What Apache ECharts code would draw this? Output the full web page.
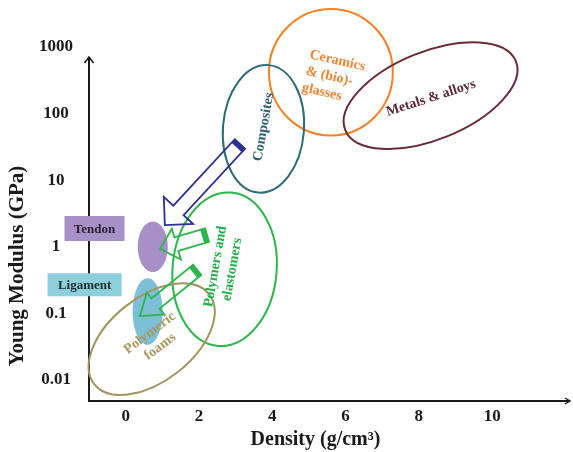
<!DOCTYPE html>
<html>
<head>
<meta charset="utf-8">
<script src="https://cdn.jsdelivr.net/npm/echarts@6/dist/echarts.min.js"></script>
<style>
  html, body { margin: 0; padding: 0; background: #fff; }
  #chart { width: 573px; height: 452px; }
</style>
</head>
<body>
<div id="chart"></div>
<script>
// Density axis tick values (g/cm³)
const densityTicks = [0, 2, 4, 6, 8, 10];
// Young's modulus tick labels (GPa), one per decade from 10^-2 to 10^3
const modulusTickLabels = ['0.01', '0.1', '1', '10', '100', '1000'];

// Material family envelopes
const familyNames = ['Ceramics\n& (bio)-\nglasses', 'Metals & alloys', 'Composites', 'Polymers and\nelastomers', 'Polymeric\nfoams'];
const familyDensity = [5.6, 8.32, 3.76, 2.70, 0.71];            // centre, g/cm³
const familyModulus = [417, 186, 59, 0.46, 0.041];               // centre, GPa
const familyDensityHalfSpan = [1.69, 2.51, 1.105, 1.42, 1.99];   // g/cm³
const familyModulusHalfSpan = [0.95, 0.66, 0.96, 1.156, 0.63];   // decades
const familyTilt = [0, 22, -4.5, -5, 38];                        // degrees
const familyLabelDensity = [4.92, 8.33, 3.77, 2.68, 0.80];
const familyLabelModulus = [436, 171, 63, 0.48, 0.040];

// Soft tissues
const tissueNames = ['Tendon', 'Ligament'];
const tissueDensity = [0.74, 0.60];
const tissueModulus = [1.0, 0.107];
const tissueDensityHalfSpan = [0.41, 0.41];
const tissueModulusHalfSpan = [0.38, 0.50];
const tissueTagDensity = [-0.85, -1.12];
const tissueTagModulus = [1.88, 0.27];

// Replacement arrows: from a material family towards a tissue
const arrowFromDensity = [3.12, 2.22, 1.95];
const arrowFromModulus = [35, 1.50, 0.45];
const arrowToDensity = [1.07, 0.94, 0.39];
const arrowToModulus = [2.12, 0.93, 0.091];

// Axis ranges
const densityMin = -1, densityMax = 12.07;
const modulusMin = 0.00484, modulusMax = 1000, spineTop = 708;

// ---- styling ----
const FONT = '"Liberation Serif", "Times New Roman", serif';
const INK = '#1a1a1a';
const familyColors = ['#F58025', '#6B2B35', '#2F6B78', '#2CB64C', '#A39460'];
const familyTextColors = ['#F08430', '#5A2838', '#2E5F6E', '#22B04C', '#A8965C'];
const familyLabelRotate = [-13, 18, 80, 80, 37];
const familyLabelAlign = ['left', 'center', 'center', 'center', 'center'];
const tissueFill = ['#A690C6', '#7DBFD6'];
const tagFill = ['#A891C7', '#8DCFDB'];
const tagTextColor = ['#2B2236', '#1E2C33'];
const tagSize = [[60, 25], [74, 23]];
const arrowColors = ['#2E3192', '#2CB64C', '#2CB64C'];
const arrowShape = [{ w: 7, H: 20, h: 20 }, { w: 7, H: 16, h: 17 }, { w: 6.5, H: 14, h: 20 }];
const chevron = 'path://M0,9 L5,0 L10,9 L8.4,10 L5,3.6 L1.6,10 Z';

const rad = deg => deg * Math.PI / 180;

function ellipseEl(api, d, E, hx, hy, tilt, style) {
  const c = api.coord([d, E]);
  const rx = api.coord([d + hx, E])[0] - c[0];
  const ry = c[1] - api.coord([d, E * Math.pow(10, hy)])[1];
  return { type: 'ellipse', x: c[0], y: c[1], rotation: rad(tilt), shape: { cx: 0, cy: 0, rx: rx, ry: ry }, style: style };
}

const chart = echarts.init(document.getElementById('chart'), null, { renderer: 'canvas' });

chart.setOption({
  animation: false,
  backgroundColor: '#fff',
  grid: { left: 89, right: 5, top: 47, bottom: 51, containLabel: false, outerBoundsMode: 'none' },
  xAxis: {
    type: 'value', min: densityMin, max: densityMax,
    name: 'Density (g/cm³)', nameLocation: 'middle', nameGap: 29,
    nameTextStyle: { fontFamily: FONT, fontWeight: 'bold', fontSize: 20, color: INK, padding: [0, 26, 0, 0] },
    axisLine: { show: true, symbol: ['none', chevron], symbolSize: [8, 7], lineStyle: { color: INK, width: 2 } },
    axisTick: { show: false },
    splitLine: { show: false },
    axisLabel: {
      customValues: densityTicks, margin: 7,
      fontFamily: FONT, fontWeight: 'bold', fontSize: 17, color: INK,
      formatter: v => String(v)
    }
  },
  yAxis: {
    type: 'log', logBase: 10, min: modulusMin, max: modulusMax,
    name: 'Young Modulus (GPa)', nameLocation: 'middle', nameGap: 60,
    nameTextStyle: { fontFamily: FONT, fontWeight: 'bold', fontSize: 21, color: INK, padding: [0, 84, 0, 0] },
    axisLine: { show: false },
    axisTick: { show: false },
    splitLine: { show: false },
    axisLabel: {
      margin: 33, align: 'center',
      fontFamily: FONT, fontWeight: 'bold', fontSize: 17, color: INK,
      showMinLabel: true, showMaxLabel: true,
      formatter: v => {
        const p = Math.log10(v);
        const r = Math.round(p);
        if (Math.abs(p - r) > 1e-6 || r < -2 || r > 3) return '';
        return modulusTickLabels[r + 2];
      }
    }
  },
  series: [
    {
      // modulus axis spine with open arrow head
      type: 'custom', name: 'spine', z: 2,
      data: [[densityMin, modulusMin]],
      renderItem: (params, api) => {
        const a = api.coord([densityMin, modulusMin]);
        const b = api.coord([densityMin, spineTop]);
        return {
          type: 'group', children: [
            { type: 'line', shape: { x1: a[0], y1: a[1] + 1, x2: b[0], y2: b[1] }, style: { stroke: INK, lineWidth: 2 } },
            { type: 'polyline', shape: { points: [[b[0] - 4.5, b[1] + 6], [b[0], b[1]], [b[0] + 4.5, b[1] + 6]] }, style: { stroke: INK, lineWidth: 1.6, fill: 'none' } }
          ]
        };
      }
    },
    {
      // soft tissue regions
      type: 'custom', name: 'tissues', z: 3,
      data: tissueDensity.map((d, i) => [d, tissueModulus[i]]),
      renderItem: (params, api) => {
        const i = params.dataIndex;
        return ellipseEl(api, tissueDensity[i], tissueModulus[i], tissueDensityHalfSpan[i], tissueModulusHalfSpan[i], 0,
          { fill: tissueFill[i], stroke: 'none' });
      }
    },
    {
      // material family envelopes
      type: 'custom', name: 'families', z: 4,
      data: familyDensity.map((d, i) => [d, familyModulus[i]]),
      renderItem: (params, api) => {
        const i = params.dataIndex;
        return ellipseEl(api, familyDensity[i], familyModulus[i], familyDensityHalfSpan[i], familyModulusHalfSpan[i], familyTilt[i],
          { fill: 'none', stroke: familyColors[i], lineWidth: 2 });
      }
    },
    {
      // hollow block arrows with a striped tail
      type: 'custom', name: 'arrows', z: 5,
      data: arrowFromDensity.map((d, i) => [d, arrowFromModulus[i], arrowToDensity[i], arrowToModulus[i]]),
      renderItem: (params, api) => {
        const i = params.dataIndex;
        const p0 = api.coord([arrowFromDensity[i], arrowFromModulus[i]]);
        const p1 = api.coord([arrowToDensity[i], arrowToModulus[i]]);
        const dx = p1[0] - p0[0], dy = p1[1] - p0[1];
        const L = Math.hypot(dx, dy);
        const ux = dx / L, uy = dy / L, nx = -uy, ny = ux;
        const s = arrowShape[i];
        const P = (a, b) => [p0[0] + ux * a + nx * b, p0[1] + uy * a + ny * b];
        const outline = [P(0, -s.w), P(L - s.h, -s.w), P(L - s.h, -s.H), P(L, 0), P(L - s.h, s.H), P(L - s.h, s.w), P(0, s.w)];
        const band = [P(0, -s.w), P(4.5, -s.w), P(4.5, s.w), P(0, s.w)];
        return {
          type: 'group', children: [
            { type: 'polygon', shape: { points: outline }, style: { fill: 'none', stroke: arrowColors[i], lineWidth: 1.8, lineJoin: 'miter' } },
            { type: 'polygon', shape: { points: band }, style: { fill: arrowColors[i], stroke: arrowColors[i], lineWidth: 1 } }
          ]
        };
      }
    },
    {
      // family names
      type: 'custom', name: 'familyLabels', z: 6,
      data: familyLabelDensity.map((d, i) => [d, familyLabelModulus[i]]),
      renderItem: (params, api) => {
        const i = params.dataIndex;
        const c = api.coord([familyLabelDensity[i], familyLabelModulus[i]]);
        return {
          type: 'text', x: c[0], y: c[1], rotation: rad(familyLabelRotate[i]),
          style: {
            text: familyNames[i], fill: familyTextColors[i],
            fontFamily: FONT, fontWeight: 'bold', fontSize: 14, lineHeight: 17,
            align: familyLabelAlign[i], verticalAlign: 'middle'
          }
        };
      }
    },
    {
      // tissue name tags
      type: 'custom', name: 'tissueTags', z: 7,
      data: tissueTagDensity.map((d, i) => [d, tissueTagModulus[i]]),
      renderItem: (params, api) => {
        const i = params.dataIndex;
        const c = api.coord([tissueTagDensity[i], tissueTagModulus[i]]);
        const [w, h] = tagSize[i];
        return {
          type: 'group', children: [
            { type: 'rect', shape: { x: c[0] - w / 2, y: c[1] - h / 2, width: w, height: h }, style: { fill: tagFill[i] } },
            {
              type: 'text', x: c[0], y: c[1] + 1,
              style: { text: tissueNames[i], fill: tagTextColor[i], fontFamily: FONT, fontWeight: 'bold', fontSize: 13, align: 'center', verticalAlign: 'middle' }
            }
          ]
        };
      }
    }
  ]
});
</script>
</body>
</html>
